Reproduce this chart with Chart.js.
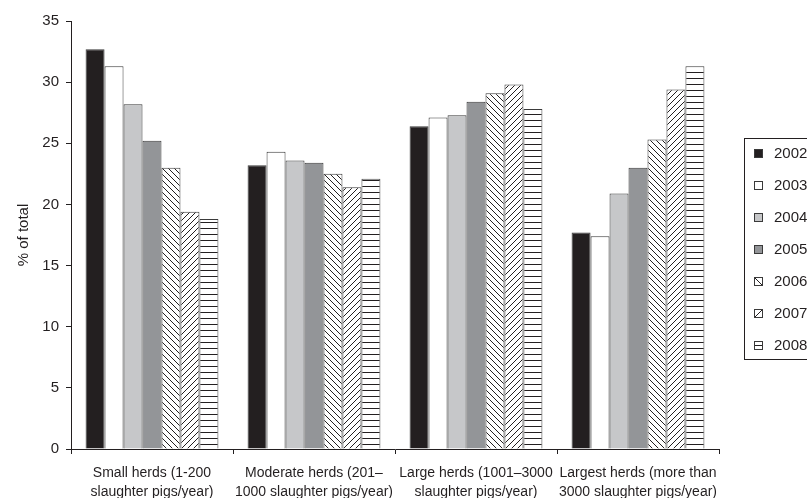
<!DOCTYPE html>
<html>
<head>
<meta charset="utf-8">
<script src="https://cdn.jsdelivr.net/npm/chart.js@4.4.1/dist/chart.umd.min.js"></script>
<style>
    body { margin: 0; background: #fff; }
    canvas { display: block; }
</style>
</head>
<body>
<canvas id="graficaHatos" width="807" height="498"></canvas>
<script>
// ============================
// 1. Datos del gráfico
// ============================
const categorias = [
    ['Small herds (1-200', 'slaughter pigs/year)'],
    ['Moderate herds (201\u2013', '1000 slaughter pigs/year)'],
    ['Large herds (1001\u20133000', 'slaughter pigs/year)'],
    ['Largest herds (more than', '3000 slaughter pigs/year)']
];
const anios = ['2002', '2003', '2004', '2005', '2006', '2007', '2008'];

const valores2002 = [32.7, 23.2, 26.4, 17.7];
const valores2003 = [31.3, 24.3, 27.1, 17.4];
const valores2004 = [28.2, 23.6, 27.3, 20.9];
const valores2005 = [25.2, 23.4, 28.4, 23.0];
const valores2006 = [23.0, 22.5, 29.1, 25.3];
const valores2007 = [19.4, 21.4, 29.8, 29.4];
const valores2008 = [18.8, 22.1, 27.8, 31.3];

const ejeYMin = 0;
const ejeYMax = 35;
const ejeYPaso = 5;

// ============================
// 2. Rellenos (sólidos y rayados)
// ============================
const tinta = '#231f20';
const ctx = document.getElementById('graficaHatos').getContext('2d');

function crearRayado(tipo) {
    const c = document.createElement('canvas');
    c.width = 6;
    c.height = 6;
    const g = c.getContext('2d');
    g.fillStyle = '#ffffff';
    g.fillRect(0, 0, 6, 6);
    g.strokeStyle = tinta;
    g.lineWidth = 1;
    g.beginPath();
    if (tipo === 'inv') {          // líneas "\"
        g.moveTo(-1, -1); g.lineTo(7, 7);
        g.moveTo(-1, 5); g.lineTo(1, 7);
        g.moveTo(5, -1); g.lineTo(7, 1);
    } else if (tipo === 'dir') {   // líneas "/"
        g.moveTo(-1, 7); g.lineTo(7, -1);
        g.moveTo(-1, 1); g.lineTo(1, -1);
        g.moveTo(5, 7); g.lineTo(7, 5);
    } else {                       // horizontales
        g.moveTo(0, 0.5); g.lineTo(6, 0.5);
    }
    g.stroke();
    return ctx.createPattern(c, 'repeat');
}

const tiposRelleno = ['solido', 'solido', 'solido', 'solido', 'inv', 'dir', 'hor'];
const colores = [
    tinta,
    '#ffffff',
    '#c6c7c9',
    '#939598',
    crearRayado('inv'),
    crearRayado('dir'),
    crearRayado('hor')
];
const series = [valores2002, valores2003, valores2004, valores2005, valores2006, valores2007, valores2008];

const datasets = anios.map((anio, i) => ({
    label: anio,
    data: series[i],
    backgroundColor: colores[i],
    borderColor: '#3a3a3a',
    borderWidth: 1,
    categoryPercentage: 0.82,
    barPercentage: 1.0
}));

// ============================
// 3. Leyenda con marco a la derecha
// ============================
const leyendaMarco = {
    id: 'leyendaMarco',
    afterDraw(chart) {
        const g = chart.ctx;
        g.save();
        g.strokeStyle = tinta;
        g.lineWidth = 1;
        g.strokeRect(744.5, 138.5, 80, 221);
        g.font = '15px "Liberation Sans", Arial, sans-serif';
        g.textBaseline = 'middle';
        g.textAlign = 'left';
        chart.data.datasets.forEach((ds, i) => {
            const y = 153 + i * 32;
            const x0 = 754.5, y0 = Math.round(y - 4) + 0.5, lado = 8;
            const tipo = tiposRelleno[i];
            g.fillStyle = tipo === 'solido' ? ds.backgroundColor : '#ffffff';
            g.fillRect(x0, y0, lado, lado);
            g.strokeStyle = tinta;
            g.beginPath();
            if (tipo === 'inv') { g.moveTo(x0, y0); g.lineTo(x0 + lado, y0 + lado); }
            if (tipo === 'dir') { g.moveTo(x0, y0 + lado); g.lineTo(x0 + lado, y0); }
            if (tipo === 'hor') { g.moveTo(x0, y0 + lado / 2); g.lineTo(x0 + lado, y0 + lado / 2); }
            g.stroke();
            g.strokeStyle = '#3a3a3a';
            g.strokeRect(x0, y0, lado, lado);
            g.fillStyle = tinta;
            g.fillText(ds.label, 774, y + 1);
        });
        g.restore();
    }
};

// ============================
// 4. Gráfico de barras
// ============================
new Chart(ctx, {
    type: 'bar',
    data: { labels: categorias, datasets: datasets },
    plugins: [leyendaMarco],
    options: {
        responsive: false,
        animation: false,
        devicePixelRatio: 1,
        layout: { padding: { left: 0, right: 88, top: 21, bottom: 0 } },
        plugins: {
            legend: { display: false },
            tooltip: { enabled: false }
        },
        scales: {
            x: {
                grid: { drawOnChartArea: false, drawTicks: true, tickLength: 5, color: tinta, offset: true },
                border: { display: true, color: tinta, width: 1 },
                ticks: {
                    color: tinta,
                    font: { family: '"Liberation Sans", Arial, sans-serif', size: 14, lineHeight: 1.4 },
                    padding: 9,
                    maxRotation: 0,
                    minRotation: 0,
                    autoSkip: false
                },
                afterFit(scale) { scale.height = 49; }
            },
            y: {
                min: ejeYMin,
                max: ejeYMax,
                grid: { drawOnChartArea: false, drawTicks: true, tickLength: 5, color: tinta },
                border: { display: true, color: tinta, width: 1 },
                ticks: {
                    stepSize: ejeYPaso,
                    color: tinta,
                    font: { family: '"Liberation Sans", Arial, sans-serif', size: 15 },
                    padding: 7
                },
                title: {
                    display: true,
                    text: '% of total',
                    color: tinta,
                    font: { family: '"Liberation Sans", Arial, sans-serif', size: 15 },
                    padding: { top: 15, bottom: 0 }
                },
                afterFit(scale) { scale.width = 71; }
            }
        }
    }
});
</script>
</body>
</html>
